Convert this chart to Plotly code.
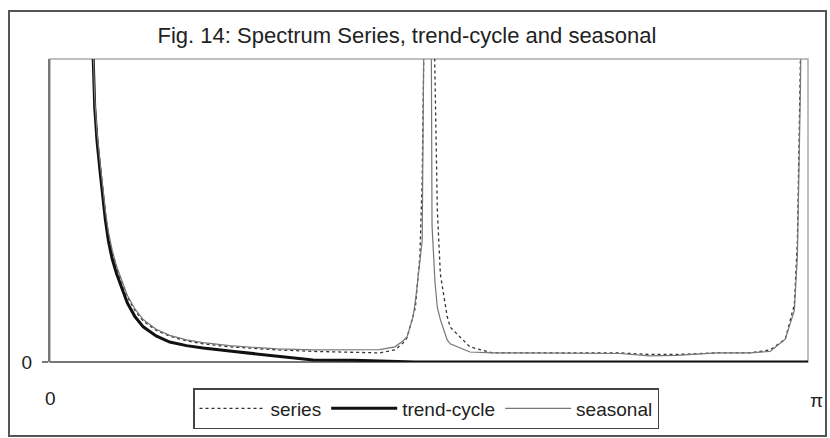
import plotly.graph_objects as go

# Frequency as fraction of pi (0 .. pi)
freq = [0.052, 0.057, 0.059, 0.062, 0.066, 0.069, 0.073, 0.077, 0.082, 0.088,
        0.095, 0.102, 0.112, 0.123, 0.14, 0.158, 0.18, 0.202, 0.237, 0.26,
        0.30, 0.347, 0.40, 0.435, 0.455, 0.466, 0.471, 0.479, 0.482, 0.488,
        0.491, 0.493, 0.50, 0.504, 0.508, 0.511, 0.515, 0.524, 0.528, 0.554,
        0.584, 0.62, 0.70, 0.752, 0.79, 0.827, 0.88, 0.923, 0.95, 0.97,
        0.982, 0.986, 0.99, 0.995, 1.0]

series = [2.0, 1.0, 0.86, 0.75, 0.65, 0.58, 0.49, 0.42, 0.36, 0.31,
          0.26, 0.215, 0.17, 0.135, 0.105, 0.085, 0.07, 0.06, 0.05, 0.046,
          0.04, 0.035, 0.032, 0.03, 0.04, 0.063, 0.08, 0.15, 0.18, 0.35,
          0.6, 1.0, 3.0, 1.5, 1.0, 0.5, 0.29, 0.15, 0.115, 0.05,
          0.03, 0.03, 0.03, 0.03, 0.025, 0.025, 0.03, 0.03, 0.04, 0.075,
          0.19, 0.4, 1.0, 2.0, 3.0]

trend = [2.0, 1.0, 0.84, 0.73, 0.63, 0.56, 0.47, 0.40, 0.34, 0.29,
         0.24, 0.195, 0.15, 0.116, 0.086, 0.066, 0.054, 0.046, 0.036, 0.03,
         0.018, 0.007, 0.006, 0.003, 0.0, 0.0, 0.0, 0.0, 0.0, 0.0,
         0.0, 0.0, 0.0, 0.0, 0.0, 0.0, 0.0, 0.0, 0.0, 0.0,
         0.0, 0.0, 0.0, 0.0, 0.0, 0.0, 0.0, 0.0, 0.0, 0.0,
         0.0, 0.0, 0.0, 0.0, 0.0]

seasonal = [2.0, 1.02, 0.87, 0.76, 0.66, 0.59, 0.5, 0.43, 0.37, 0.315,
            0.265, 0.22, 0.175, 0.14, 0.108, 0.088, 0.073, 0.064, 0.054, 0.05,
            0.043, 0.04, 0.04, 0.041, 0.05, 0.07, 0.083, 0.15, 0.2, 0.32,
            0.4, 1.0, 3.0, 0.45, 0.26, 0.18, 0.14, 0.073, 0.06, 0.033,
            0.03, 0.03, 0.03, 0.028, 0.02, 0.022, 0.03, 0.03, 0.035, 0.075,
            0.17, 0.35, 0.9, 1.5, 3.0]

x_labels = ["0", "π"]
title_text = "Fig. 14: Spectrum Series, trend-cycle and seasonal"

FONT = "Liberation Sans, Arial, sans-serif"

fig = go.Figure()
fig.add_trace(go.Scatter(x=freq, y=series, mode="lines", name="series",
                         line=dict(color="#333333", width=1.3, dash="dot")))
fig.add_trace(go.Scatter(x=freq, y=trend, mode="lines", name="trend-cycle",
                         line=dict(color="#111111", width=3)))
fig.add_trace(go.Scatter(x=freq, y=seasonal, mode="lines", name="seasonal",
                         line=dict(color="#777777", width=1.2)))

W, H = 830, 438
L, R, T, B = 50, 808, 59, 362


def px(xp):
    return (xp - L) / (R - L)


def py(yp):
    return (B - yp) / (B - T)


fig.update_layout(
    width=W, height=H,
    margin=dict(l=L, r=W - R, t=T, b=H - B, autoexpand=False),
    paper_bgcolor="white", plot_bgcolor="white",
    font=dict(family=FONT, color="#222222", size=19),
    title=dict(text=title_text, x=407 / W, xanchor="center",
               y=1 - 35 / H, yanchor="middle", yref="container",
               font=dict(size=22, family=FONT, color="#222222")),
    showlegend=True,
    legend=dict(orientation="h", x=px(426), xanchor="center",
                y=py(388), yanchor="top",
                bordercolor="#444444", borderwidth=1.5,
                itemwidth=66,
                font=dict(size=19, family=FONT, color="#222222"),
                bgcolor="white"),
    xaxis=dict(range=[0, 1], showgrid=False, zeroline=False,
               showticklabels=False, ticks="", showline=False),
    yaxis=dict(range=[0, 1], showgrid=False, zeroline=False,
               tickvals=[0], ticktext=["0"], ticks="outside", ticklen=6,
               tickcolor="#777777", tickwidth=2,
               showline=True, linecolor="#777777", linewidth=2,
               ticklabelstandoff=6,
               tickfont=dict(size=19, family=FONT, color="#222222")),
    shapes=[
        dict(type="rect", xref="paper", yref="paper", x0=0, x1=1, y0=0, y1=1,
             line=dict(color="#aaaaaa", width=1.5), layer="below"),
        dict(type="line", xref="paper", yref="paper", x0=0, x1=1, y0=0, y1=0,
             line=dict(color="#777777", width=2), layer="below"),
        dict(type="rect", xref="paper", yref="paper",
             x0=px(9), x1=px(826), y0=py(436), y1=py(11),
             line=dict(color="#555555", width=2)),
    ],
    annotations=[
        dict(text=x_labels[0], xref="paper", yref="paper", x=px(50), y=py(398),
             xanchor="center", yanchor="middle", showarrow=False,
             font=dict(size=19, family=FONT, color="#222222")),
        dict(text=x_labels[1], xref="paper", yref="paper", x=px(817), y=py(400),
             xanchor="center", yanchor="middle", showarrow=False,
             font=dict(size=19, family=FONT, color="#222222")),
    ],
)

fig.write_html("out.html",
               config={"displayModeBar": False},
               post_script="document.body.style.margin='0';document.body.style.overflow='hidden';")
